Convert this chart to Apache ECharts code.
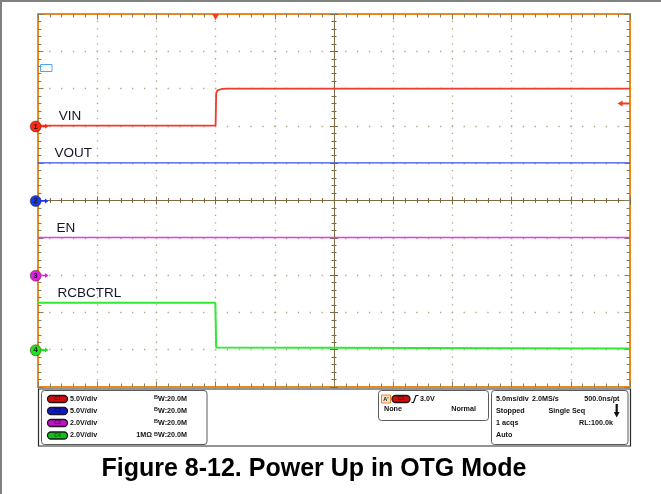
<!DOCTYPE html>
<html>
<head>
<meta charset="utf-8">
<script src="https://cdn.jsdelivr.net/npm/echarts@6/dist/echarts.min.js"></script>
<style>
  html, body { margin: 0; padding: 0; background: #ffffff; }
  #scope { width: 661px; height: 494px; }
</style>
</head>
<body>
<div id="scope"></div>
<script>
// Horizontal: 5 ms/div, trigger (t = 0) placed 3 divisions from the left edge
const TIME_MIN_MS = -15;
const TIME_MAX_MS = 35;

// Channel setup: name, volts per division, ground position (divisions from centre)
const CH_NAMES = ['VIN', 'VOUT', 'EN', 'RCBCTRL'];
const CH_VOLTS_PER_DIV = [5, 5, 2, 2];
const CH_POSITION_DIV = [2, 0, -2, -4];
const TRIGGER_LEVEL_V = 3.0;

// Captured traces: time (ms) and level (V)
const VIN_T = [-15, 0.0, 0.05, 0.15, 0.5, 1.0, 35];
const VIN_V = [0.05, 0.05, 4.4, 4.75, 4.95, 5.0, 5.0];
const VOUT_T = [-15, 35];
const VOUT_V = [5.05, 5.05];
const EN_T = [-15, 35];
const EN_V = [2.02, 2.02];
const RCB_T = [-15, -0.02, 0.05, 0.2, 35];
const RCB_V = [2.52, 2.52, 0.12, 0.06, 0.06];

// Where each trace name is written (time in ms, on that trace's level)
const TAG_T = [-13.3, -13.65, -13.48, -13.4];
const TAG_V = [0.05, 5.05, 2.02, 2.52];

const TRACE_T = [VIN_T, VOUT_T, EN_T, RCB_T];
const TRACE_V = [VIN_V, VOUT_V, EN_V, RCB_V];

const TRACE_COLORS = ['#f23a2a', '#3452e2', '#e03ee6', '#2fea2f'];
const TRACE_WIDTHS = [1.8, 1.3, 1.6, 2.0];
const MARKER_COLORS = ['#ff2a10', '#1238f0', '#e020e0', '#1ee01e'];

const ORANGE = '#e98a1c';
const TICK = '#8c7c56';
const DOT = '#b4a47e';
const CROSS = '#7d6b45';
const FONT = '"Liberation Sans", Arial, sans-serif';

const HALF_DIVS = 5;           // 10 x 10 division screen
const GRID = { left: 38, top: 14, width: 592, height: 373 };

// Frame axes (orange border with inward ticks)
function frameAxis(position, withDots, dash) {
  return {
    type: 'value', min: -HALF_DIVS, max: HALF_DIVS, interval: 1, position,
    axisLine: { show: true, onZero: false, lineStyle: { color: ORANGE, width: 2 } },
    axisTick: { show: true, inside: true, length: 5.5, lineStyle: { color: TICK, width: 1 } },
    minorTick: { show: true, splitNumber: 5, length: 3.5, lineStyle: { color: TICK, width: 1 } },
    axisLabel: { show: false },
    splitLine: withDots
      ? { show: true, lineStyle: { color: DOT, width: 1.3, type: dash, dashOffset: 0.65 } }
      : { show: false },
    minorSplitLine: { show: false },
    silent: true
  };
}
// Centre crosshair axes (ticks on both sides by pairing inside / outside)
function crossAxis(position, inside) {
  return {
    type: 'value', min: -HALF_DIVS, max: HALF_DIVS, interval: 1, position,
    axisLine: { show: true, onZero: true, onZeroAxisIndex: 0, lineStyle: { color: CROSS, width: 1 } },
    axisTick: { show: true, inside, length: 4, lineStyle: { color: CROSS, width: 1 } },
    minorTick: { show: true, splitNumber: 5, length: 2.5, lineStyle: { color: CROSS, width: 1 } },
    axisLabel: { show: false },
    splitLine: { show: false },
    silent: true
  };
}

const dotsAlongY = GRID.height / 50;   // minor step vertically
const dotsAlongX = GRID.width / 50;    // minor step horizontally

const xAxes = [
  frameAxis('bottom', true, [1.3, dotsAlongY - 1.3]),
  frameAxis('top', false),
  crossAxis('bottom', true),
  crossAxis('bottom', false),
  { type: 'value', min: TIME_MIN_MS, max: TIME_MAX_MS, show: false, position: 'bottom',
    axisLine: { onZero: false } }
];
const yAxes = [
  frameAxis('left', true, [1.3, dotsAlongX - 1.3]),
  frameAxis('right', false),
  crossAxis('left', true),
  crossAxis('left', false)
];
CH_NAMES.forEach((name, i) => {
  yAxes.push({
    type: 'value', show: false, position: 'left',
    min: (-HALF_DIVS - CH_POSITION_DIV[i]) * CH_VOLTS_PER_DIV[i],
    max: (HALF_DIVS - CH_POSITION_DIV[i]) * CH_VOLTS_PER_DIV[i],
    axisLine: { onZero: false }
  });
});

const series = CH_NAMES.map((name, i) => {
  const marks = [
    { // channel ground reference badge
      coord: [TIME_MIN_MS, 0], symbol: 'circle', symbolSize: 11, symbolOffset: [-2.3, 0.6],
      itemStyle: { color: MARKER_COLORS[i], borderColor: 'rgba(60,20,0,0.45)', borderWidth: 1 },
      label: { show: true, position: 'inside', formatter: String(i + 1), fontSize: 7.5,
               fontWeight: 'bold', color: '#1a1a1a', fontFamily: FONT }
    },
    { // ground arrow
      coord: [TIME_MIN_MS, 0], symbol: 'path://M0,2 L5,2 L5,0 L9,3 L5,6 L5,4 L0,4 Z',
      symbolSize: [8, 5], symbolOffset: [6.5, 0.4], itemStyle: { color: MARKER_COLORS[i] },
      label: { show: false }
    },
    { // trace name
      coord: [TAG_T[i], TAG_V[i]], symbol: 'circle', symbolSize: 1,
      itemStyle: { color: 'rgba(0,0,0,0)' },
      label: { show: true, position: 'right', distance: 0, offset: [0, -9.5], formatter: name,
               fontSize: 13.5, color: '#15152a', fontFamily: FONT }
    }
  ];
  if (i === 0) {
    const topV = (HALF_DIVS - CH_POSITION_DIV[0]) * CH_VOLTS_PER_DIV[0];
    marks.push({ // trigger position
      coord: [0, topV], symbol: 'path://M0,0 L10,0 L5,8 Z', symbolSize: [7, 6],
      symbolOffset: [0, 3], itemStyle: { color: '#f2401c' }, label: { show: false }
    });
    marks.push({ // trigger level
      coord: [TIME_MAX_MS, TRIGGER_LEVEL_V], symbol: 'path://M0,3 L5,0 L5,2 L12,2 L12,4 L5,4 L5,6 Z',
      symbolSize: [12, 6], symbolOffset: [-6.5, 0], itemStyle: { color: '#f2401c' },
      label: { show: false }
    });
  }
  return {
    name, type: 'line', xAxisIndex: 4, yAxisIndex: 4 + i,
    data: TRACE_T[i].map((t, k) => [t, TRACE_V[i][k]]),
    showSymbol: false, symbol: 'none', animation: false, silent: true,
    lineStyle: { color: TRACE_COLORS[i], width: TRACE_WIDTHS[i] },
    emphasis: { disabled: true },
    markPoint: { symbol: 'circle', symbolSize: 1, silent: true, animation: false, data: marks },
    z: 3
  };
});

// ---- status panels under the screen ----
function t(x, y, s, extra) {
  return { type: 'text', x, y, z: 20, silent: true,
    style: Object.assign({ text: s, fill: '#111', fontSize: 7.2, fontWeight: 'bold',
      fontFamily: FONT, align: 'left', verticalAlign: 'middle' }, extra || {}) };
}
function pill(x, y, w, color, label) {
  return [
    { type: 'rect', z: 20, silent: true, shape: { x, y: y - 3.5, width: w, height: 7, r: 3.5 },
      style: { fill: color, stroke: '#1a1a1a', lineWidth: 1.3 } },
    t(x + w / 2, y, label, { fontSize: 5, align: 'center', fill: 'rgba(0,0,0,0.55)' })
  ];
}
function roundBox(x, y, w, h) {
  return { type: 'rect', z: 15, silent: true, shape: { x, y, width: w, height: h, r: 3 },
    style: { fill: '#fff', stroke: '#5a5a5a', lineWidth: 1 } };
}

const ROWS = [399, 411, 423, 435.5];
const PANEL_PILL_COLORS = ['#d40c0c', '#1018c8', '#c010c8', '#10c018'];
const VDIV_TEXT = ['5.0V/div', '5.0V/div', '2.0V/div', '2.0V/div'];

const g = [
  // page rules
  { type: 'line', z: 30, silent: true, shape: { x1: 1, y1: 0, x2: 1, y2: 494 },
    style: { stroke: '#808080', lineWidth: 2 } },
  { type: 'line', z: 30, silent: true, shape: { x1: 0, y1: 1, x2: 661, y2: 1 },
    style: { stroke: '#808080', lineWidth: 2 } },
  // small cursor box
  { type: 'rect', z: 10, silent: true, shape: { x: 40.5, y: 64.5, width: 11.5, height: 7 },
    style: { fill: 'none', stroke: '#4aa6ff', lineWidth: 1 } },
  // outer status frame
  { type: 'rect', z: 12, silent: true, shape: { x: 38.5, y: 389, width: 592, height: 57 },
    style: { fill: '#fff', stroke: '#2a2a2a', lineWidth: 1.2 } },
  roundBox(41.5, 390.5, 165.5, 54),
  roundBox(378.5, 390.5, 110, 30),
  roundBox(491.5, 390.5, 136.5, 54)
];

ROWS.forEach((y, i) => {
  g.push(...pill(47.5, y, 20, PANEL_PILL_COLORS[i], 'C' + (i + 1)));
  g.push(t(70, y, VDIV_TEXT[i]));
  g.push(t(187, y, '{s|B}{n|W:20.0M}', { align: 'right',
    rich: { s: { fontSize: 5.5, fontWeight: 'bold', fontFamily: FONT, padding: [0, 0, 3, 0], fill: '#111' },
            n: { fontSize: 7.2, fontWeight: 'bold', fontFamily: FONT, fill: '#111' } } }));
});
g.push(t(152, ROWS[3], '1MΩ', { align: 'right' }));

// trigger panel
g.push({ type: 'rect', z: 20, silent: true, shape: { x: 381.5, y: 395, width: 9, height: 8 },
  style: { fill: '#fbe2c4', stroke: '#e8882c', lineWidth: 1 } });
g.push(t(386, 399, "A'", { fontSize: 5.5, align: 'center' }));
g.push(...pill(392, 399, 18, '#d40c0c', 'C1'));
g.push({ type: 'polyline', z: 20, silent: true,
  shape: { points: [[411.5, 402.5], [413.5, 402.5], [416, 395.5], [418.5, 395.5]] },
  style: { stroke: '#111', lineWidth: 1.2, fill: 'none' } });
g.push(t(420, 399, '3.0V'));
g.push(t(384, 409.5, 'None'));
g.push(t(476, 409.5, 'Normal', { align: 'right' }));

// acquisition panel
g.push(t(496, ROWS[0], '5.0ms/div'));
g.push(t(532, ROWS[0], '2.0MS/s'));
g.push(t(619.5, ROWS[0], '500.0ns/pt', { align: 'right' }));
g.push(t(496, ROWS[1], 'Stopped'));
g.push(t(548.5, ROWS[1], 'Single Seq'));
g.push({ type: 'polygon', z: 20, silent: true,
  shape: { points: [[615.6, 404], [617.8, 404], [617.8, 412], [619.6, 412], [616.7, 417.5], [613.8, 412], [615.6, 412]] },
  style: { fill: '#111' } });
g.push(t(496, ROWS[2], '1 acqs'));
g.push(t(613, ROWS[2], 'RL:100.0k', { align: 'right' }));
g.push(t(496, ROWS[3], 'Auto'));

// caption
g.push({ type: 'text', x: 314, y: 469, z: 20, silent: true,
  style: { text: 'Figure 8-12. Power Up in OTG Mode', fill: '#000', fontSize: 25, fontWeight: 'bold',
           fontFamily: FONT, align: 'center', verticalAlign: 'middle' } });

const chart = echarts.init(document.getElementById('scope'), null, { renderer: 'canvas' });
chart.setOption({
  animation: false,
  backgroundColor: '#ffffff',
  grid: Object.assign({ containLabel: false, outerBoundsMode: 'none', show: false }, GRID),
  xAxis: xAxes,
  yAxis: yAxes,
  series,
  graphic: { elements: g },
  tooltip: { show: false }
});
</script>
</body>
</html>
